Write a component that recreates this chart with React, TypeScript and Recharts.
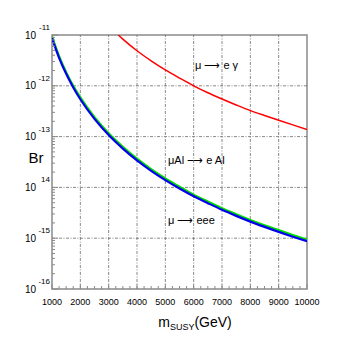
import React from 'react';
import { LineChart, Line, XAxis, YAxis, ReferenceLine, ReferenceArea, Customized } from 'recharts';

const massGeV = [1000, 1250, 1500, 1750, 2000, 2500, 3000, 3500, 4000, 4500, 5000, 5500, 6000, 6500, 7000, 7500, 8000, 8500, 9000, 9500, 10000];
const brMuEee = [8.7e-12, 3.56e-12, 1.72e-12, 9.28e-13, 5.44e-13, 2.23e-13, 1.07e-13, 5.8e-14, 3.4e-14, 2.12e-14, 1.39e-14, 9.5e-15, 6.7e-15, 4.9e-15, 3.62e-15, 2.75e-15, 2.12e-15, 1.67e-15, 1.33e-15, 1.07e-15, 8.7e-16];
const brMuAl = [9.4e-12, 3.85e-12, 1.86e-12, 1.0e-12, 5.9e-13, 2.41e-13, 1.16e-13, 6.3e-14, 3.67e-14, 2.29e-14, 1.5e-14, 1.03e-14, 7.2e-15, 5.3e-15, 3.9e-15, 2.97e-15, 2.29e-15, 1.8e-15, 1.44e-15, 1.16e-15, 9.4e-16];
const megMass = [3340, 3500, 4000, 4500, 5000, 5500, 6000, 6500, 7000, 7500, 8000, 8500, 9000, 9500, 10000];
const brMeg = [1.0e-11, 8.3e-12, 4.9e-12, 3.1e-12, 2.05e-12, 1.42e-12, 1.0e-12, 7.3e-13, 5.5e-13, 4.2e-13, 3.25e-13, 2.6e-13, 2.1e-13, 1.7e-13, 1.38e-13];

const xMajorTicks = [1000, 2000, 3000, 4000, 5000, 6000, 7000, 8000, 9000, 10000];
const xTickLabels = ['1000', '2000', '3000', '4000', '5000', '6000', '7000', '8000', '9000', '10000'];
const yMajorTicks = [1e-16, 1e-15, 1e-14, 1e-13, 1e-12, 1e-11];
const yExpLabels = ['-16', '-15', '14', '-13', '-12', '-11'];

const xGrid = [2000, 3000, 4000, 5000, 6000, 7000, 8000, 9000];
const yGrid = [1e-15, 1e-14, 1e-13, 1e-12];

const xAllTicks: number[] = [];
for (let v = 1000; v <= 10000; v += 250) xAllTicks.push(v);
const yAllTicks: number[] = [];
for (let e = -16; e <= -11; e++) {
  for (let k = 1; k <= 9; k++) {
    const v = k * Math.pow(10, e);
    if (e === -11 && k > 1) break;
    yAllTicks.push(v);
  }
}

const eeeData = massGeV.map((m, i) => ({ m, br: brMuEee[i] }));
const alData = massGeV.map((m, i) => ({ m, br: brMuAl[i] }));
const megData = megMass.map((m, i) => ({ m, br: brMeg[i] }));

const FONT = '"Liberation Sans", Arial, Helvetica, sans-serif';
const AXIS = '#8a8a8a';
const GRID = '#6a6a6a';

const YTick = (props: any) => {
  const { x, y, payload } = props;
  const v = payload.value;
  const idx = yMajorTicks.findIndex((t) => Math.abs(Math.log10(t) - Math.log10(v)) < 1e-6);
  const major = idx >= 0;
  return (
    <g>
      <line x1={x} y1={y} x2={x + (major ? 6 : 3)} y2={y} stroke={AXIS} strokeWidth={1} />
      {major && (
        <>
          <text x={x - 16} y={y + 3.5} textAnchor="end" fontSize={10} fontFamily={FONT} fill="#000">10</text>
          <text x={x - 2} y={y - 5} textAnchor="end" fontSize={8} fontFamily={FONT} fill="#000">{yExpLabels[idx]}</text>
        </>
      )}
    </g>
  );
};

const XTick = (props: any) => {
  const { x, y, payload } = props;
  const v = payload.value;
  const idx = xMajorTicks.indexOf(v);
  const major = idx >= 0;
  return (
    <g>
      <line x1={x} y1={y} x2={x} y2={y - (major ? 5 : 3)} stroke={AXIS} strokeWidth={1} />
      {major && (
        <text x={x} y={y + 16} textAnchor="middle" fontSize={9} fontFamily={FONT} fill="#000">{xTickLabels[idx]}</text>
      )}
    </g>
  );
};

const Labels = () => (
  <g fontFamily={FONT} fill="#000">
    <text x={36} y={163} textAnchor="middle" fontSize={15}>Br</text>
    <text x={195} y={327} textAnchor="middle" fontSize={14}>
      m<tspan fontSize={9} dy={3}>SUSY</tspan><tspan dy={-3}>(GeV)</tspan>
    </text>
    <text x={195} y={69} fontSize={11}>μ ⟶ e γ</text>
    <text x={168} y={164} fontSize={11}>μAl ⟶ e Al</text>
    <text x={168} y={224} fontSize={11}>μ ⟶ eee</text>
  </g>
);

export default function App() {
  return (
    <div style={{ position: 'absolute', left: 0, top: 0, width: 341, height: 341, background: '#fff' }}>
      <LineChart width={341} height={341} margin={{ top: 35, right: 34, bottom: 51, left: 51 }}>
        <XAxis
          dataKey="m"
          type="number"
          domain={[1000, 10000]}
          ticks={xAllTicks}
          interval={0}
          tick={XTick}
          tickLine={false}
          tickSize={0}
          tickMargin={0}
          height={1}
          axisLine={false}
          allowDataOverflow
        />
        <YAxis
          dataKey="br"
          scale="log"
          type="number"
          domain={[1e-16, 1e-11]}
          ticks={yAllTicks}
          interval={0}
          tick={YTick}
          tickLine={false}
          tickSize={0}
          tickMargin={0}
          width={1}
          axisLine={false}
          allowDataOverflow
        />
        {xGrid.map((v) => (
          <ReferenceLine key={'x' + v} x={v} stroke={GRID} strokeWidth={0.8} strokeDasharray="3 1.5 1 1.5" />
        ))}
        {yGrid.map((v) => (
          <ReferenceLine key={'y' + v} y={v} stroke={GRID} strokeWidth={0.8} strokeDasharray="3 1.5 1 1.5" />
        ))}
        <ReferenceArea x1={1000} x2={10000} y1={1e-16} y2={1e-11} fill="none" stroke={AXIS} strokeWidth={1.5} />
        <Line data={megData} dataKey="br" type="monotone" stroke="#ff0000" strokeWidth={1.5} dot={false} isAnimationActive={false} />
        <Line data={alData} dataKey="br" type="monotone" stroke="#00e000" strokeWidth={2.2} dot={false} isAnimationActive={false} />
        <Line data={eeeData} dataKey="br" type="monotone" stroke="#0000ee" strokeWidth={2.2} dot={false} isAnimationActive={false} />
        <Customized component={Labels} />
      </LineChart>
    </div>
  );
}
